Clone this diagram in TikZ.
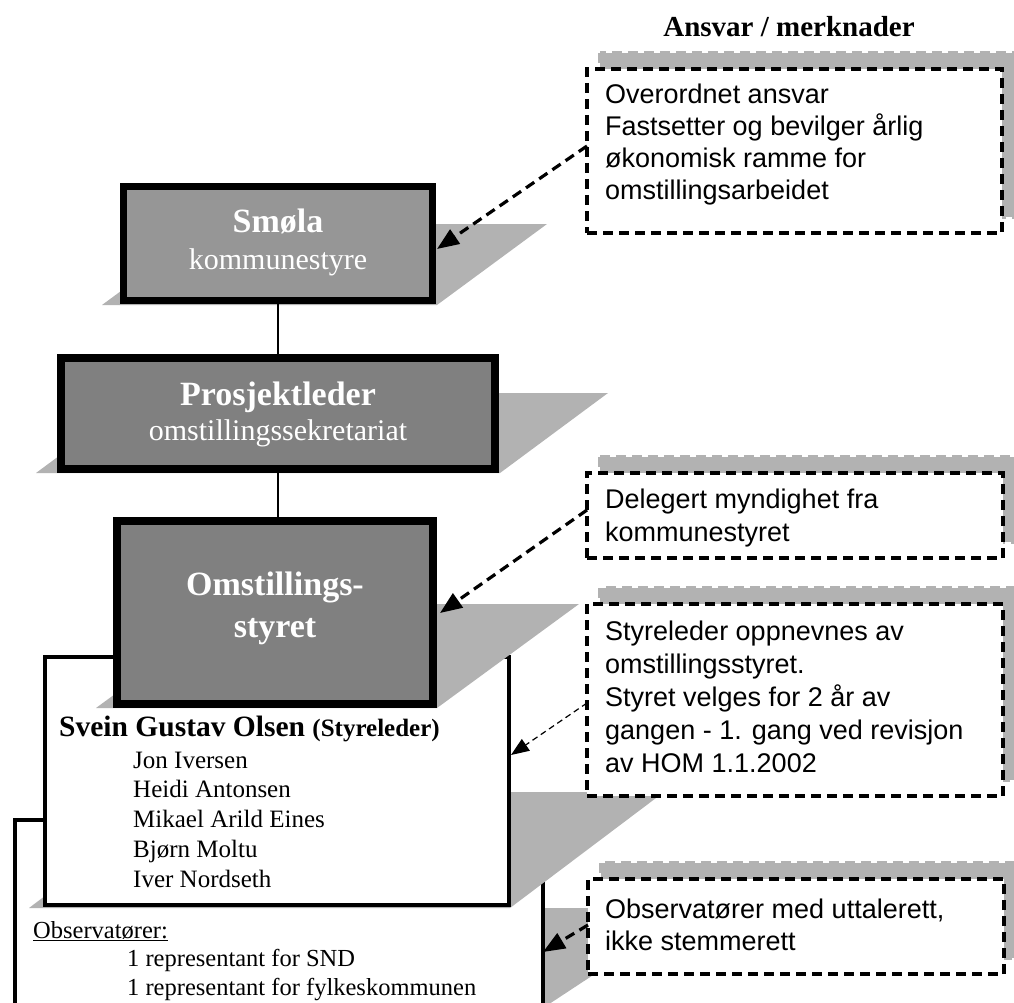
\documentclass[tikz,border=0pt]{standalone}
\usepackage{fontspec}
\setmainfont{Liberation Serif}
\newfontfamily\arialf{Liberation Sans}
\usetikzlibrary{arrows.meta}
\definecolor{shadowgray}{gray}{0.70}
\definecolor{boxlight}{gray}{0.59}
\definecolor{boxdark}{gray}{0.50}
\begin{document}
\begin{tikzpicture}[x=1pt,y=-1pt,
  orgbox/.style={draw=black, line width=8pt, inner sep=0pt, outer sep=0pt},
  listbox/.style={draw=black, fill=white, inner sep=0pt, outer sep=0pt},
  notebox/.style={draw=black, fill=white, line width=3.5pt, dash pattern=on 10pt off 6pt, inner sep=0pt, outer sep=0pt},
  noteshadow/.style={draw=shadowgray, fill=shadowgray, line width=3.5pt, dash pattern=on 10pt off 6pt},
  boxtitle/.style={text=white, font=\fontsize{34}{40}\selectfont\bfseries, inner sep=0pt, anchor=base},
  boxsub/.style={text=white, font=\fontsize{30}{36}\selectfont, inner sep=0pt, anchor=base},
  notetext/.style={font=\arialf\fontsize{27}{32}\selectfont, inner sep=0pt, anchor=base west},
  membertext/.style={font=\fontsize{25}{30}\selectfont, inner sep=0pt, anchor=base west},
  obstext/.style={font=\fontsize{24.5}{29}\selectfont, inner sep=0pt, anchor=base west},
  dasharrow/.style={line width=3.2pt, dash pattern=on 10pt off 6pt, -{Triangle[length=22pt,width=17pt]}},
  thinarrow/.style={line width=1.2pt, dash pattern=on 6pt off 4pt, -{Triangle[length=18pt,width=14pt]}},
  link/.style={line width=1.5pt, draw=black}
]
\useasboundingbox (0,0) rectangle (1014,1003);
\clip (0,0) rectangle (1014,1003);

% title
\node[font=\fontsize{29}{34}\selectfont\bfseries, inner sep=0pt, anchor=base] (title) at (789,37) {Ansvar / merknader};

% observers box with shadow
\fill[shadowgray] (300,908) -- (695,908) -- (537,1012) -- (100,1012) -- cycle;
\node[listbox, line width=4pt, minimum width=528pt, minimum height=290pt] (obsbox) at (279,965) {};
\node[obstext] (obshead) at (33,938) {\underline{Observatører:}};
\node[obstext] (obs1) at (127,966) {1 representant for SND};
\node[obstext] (obs2) at (127,995) {1 representant for fylkeskommunen};

% board member box with shadow
\fill[shadowgray] (29,908) -- (510,908) -- (664,792) -- (183,792) -- cycle;
\node[listbox, line width=4.5pt, minimum width=464pt, minimum height=248pt] (board) at (277,781) {};
\node[inner sep=0pt, anchor=base west] (chair) at (59,736) {\fontsize{29.5}{34}\selectfont\bfseries Svein Gustav Olsen \fontsize{25}{30}\selectfont(Styreleder)};
\node[membertext] (m1) at (133,768) {Jon Iversen};
\node[membertext] (m2) at (133,797.75) {Heidi Antonsen};
\node[membertext] (m3) at (133,827.5) {Mikael Arild Eines};
\node[membertext] (m4) at (133,857.25) {Bjørn Moltu};
\node[membertext] (m5) at (133,887) {Iver Nordseth};

% Omstillingsstyret
\fill[shadowgray] (96,708) -- (437,708) -- (579,604) -- (238,604) -- cycle;
\node[orgbox, fill=boxdark, minimum width=316pt, minimum height=183pt] (omst) at (275,612.5) {};
\node[boxtitle] (omstA) at (275,595) {Omstillings-};
\node[boxtitle] (omstB) at (275,637) {styret};

% Prosjektleder
\fill[shadowgray] (36,473) -- (500,473) -- (608,393) -- (144,393) -- cycle;
\node[orgbox, fill=boxdark, minimum width=434pt, minimum height=111pt] (prosj) at (278,413.5) {};
\node[boxtitle] (prosjA) at (278,405) {Prosjektleder};
\node[boxsub] (prosjB) at (278,440) {omstillingssekretariat};

% Smøla
\fill[shadowgray] (102,305) -- (437,305) -- (547,224) -- (212,224) -- cycle;
\node[orgbox, line width=7.5pt, fill=boxlight, minimum width=309pt, minimum height=114pt] (smola) at (278,243.5) {};
\node[boxtitle] (smolaA) at (278,233) {Smøla};
\node[boxsub] (smolaB) at (278,269) {kommunestyre};

% vertical links
\draw[link] (smola.south) -- (smola.south |- prosj.north);
\draw[link] (prosj.south) -- (prosj.south |- omst.north);

% note boxes
\draw[noteshadow] (600,53) rectangle (1015,217);
\node[notebox, minimum width=415pt, minimum height=164pt] (note1) at (794.5,151) {};
\node[notetext] (n1a) at (605,104) {Overordnet ansvar};
\node[notetext] (n1b) at (605,136) {Fastsetter og bevilger årlig};
\node[notetext] (n1c) at (605,168) {økonomisk ramme for};
\node[notetext] (n1d) at (605,200) {omstillingsarbeidet};

\draw[noteshadow] (600,457) rectangle (1016,542);
\node[notebox, minimum width=416pt, minimum height=85pt] (note2) at (795,515.5) {};
\node[notetext] (n2a) at (605,508) {Delegert myndighet fra};
\node[notetext] (n2b) at (605,541) {kommunestyret};

\draw[noteshadow] (600,588) rectangle (1016,780);
\node[notebox, minimum width=416pt, minimum height=192pt] (note3) at (795,700) {};
\node[notetext] (n3a) at (605,640) {Styreleder oppnevnes av};
\node[notetext] (n3b) at (605,673) {omstillingsstyret.};
\node[notetext] (n3c) at (605,706) {Styret velges for 2 år av};
\node[notetext] (n3d) at (605,739) {gangen - 1. gang ved revisjon};
\node[notetext] (n3e) at (605,772) {av HOM 1.1.2002};

\draw[noteshadow] (601,863) rectangle (1017,958);
\node[notebox, minimum width=416pt, minimum height=95pt] (note4) at (796,926.5) {};
\node[notetext] (n4a) at (605,918) {Observatører med uttalerett,};
\node[notetext] (n4b) at (605,950) {ikke stemmerett};

% arrows
\coordinate (t1) at (437,249);
\coordinate (t2) at (440,613);
\coordinate (t3) at (511,755);
\coordinate (t4) at (543,952);
\draw[dasharrow] (note1.west |- 0,146) -- (t1);
\draw[dasharrow] (note2.west |- 0,510) -- (t2);
\draw[thinarrow] (note3.west |- 0,703) -- (t3);
\draw[dasharrow] (note4.west |- 0,925) -- (t4);
\end{tikzpicture}
\end{document}
